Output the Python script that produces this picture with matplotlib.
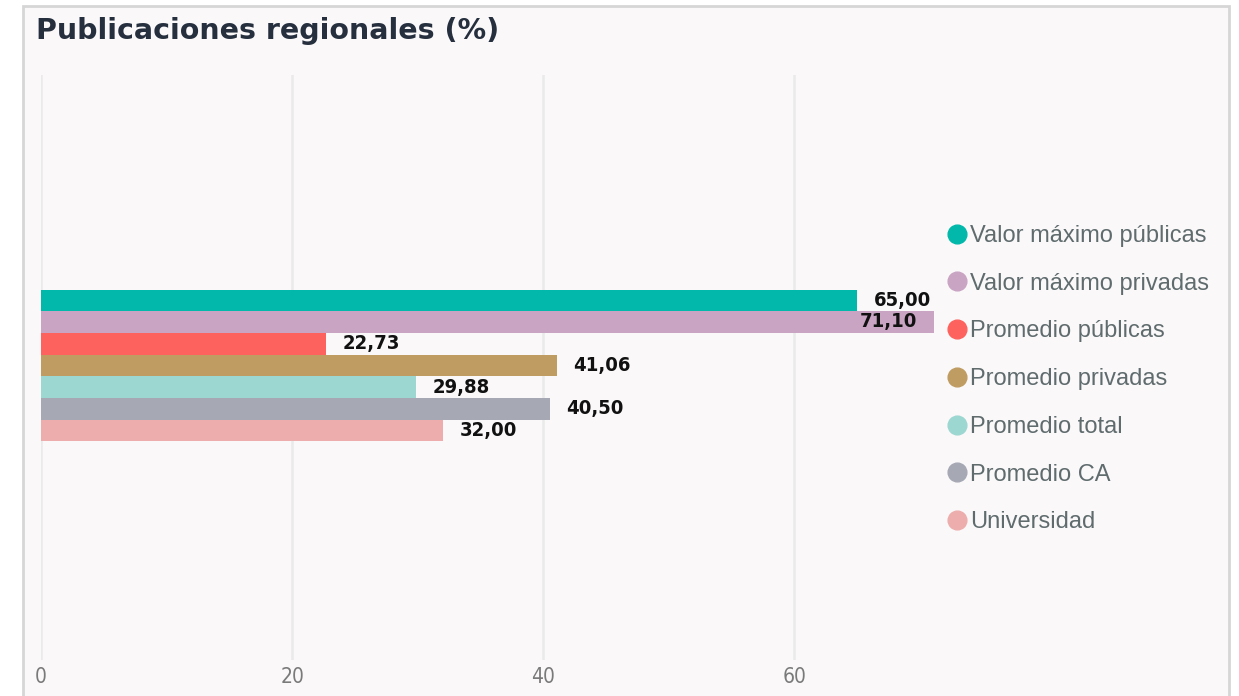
import matplotlib
matplotlib.use("Agg")
import matplotlib.pyplot as plt
from matplotlib.lines import Line2D
from matplotlib.patches import Rectangle

series = ["Valor máximo públicas", "Valor máximo privadas", "Promedio públicas",
          "Promedio privadas", "Promedio total", "Promedio CA", "Universidad"]
values = [65.00, 71.10, 22.73, 41.06, 29.88, 40.50, 32.00]
colors = ["#01B8AA", "#C9A4C3", "#FD625E", "#BF9C62", "#9DD7D1", "#A6A9B4", "#EDADAD"]
xticks = [0, 20, 40, 60]
title = "Publicaciones regionales (%)"

W, H = 1239, 696
fig = plt.figure(figsize=(W / 100, H / 100), dpi=100)
fig.patch.set_facecolor("white")

# panel background and border
fig.patches.append(Rectangle((23 / W, -0.01), (1229 - 23) / W, 1.01 - 6 / H, transform=fig.transFigure,
                             facecolor="#FAF8F9", edgecolor="#D6D6D6", linewidth=2, zorder=-10))

ax = fig.add_axes([41 / W, 1 - 660 / H, (945 - 41) / W, (660 - 75) / H])
ax.set_facecolor("none")
xmax = 72
ax.set_xlim(0, xmax)
ax.set_ylim(16.6, -10.4)

pos = list(range(len(values)))
ax.barh(pos, values, height=1.0, color=colors, zorder=3)

ax.set_xticks(xticks)
ax.set_xticklabels([str(t) for t in xticks])
ax.set_yticks([])
ax.grid(axis="x", color="#EAEAEA", linewidth=1.8, zorder=0)
for s in ax.spines.values():
    s.set_visible(False)
ax.tick_params(axis="x", length=0, pad=5, labelsize=15, labelcolor="#7A7A7A")
for lbl in ax.get_xticklabels():
    lbl.set_fontfamily("DejaVu Sans")
    lbl.set_fontstretch("condensed")

for p, v in zip(pos, values):
    txt = f"{v:.2f}".replace(".", ",")
    if v > 0.93 * xmax:
        ax.annotate(txt, (v, p), xytext=(-12, 0), textcoords="offset points",
                    ha="right", va="center", fontsize=14.5, color="#111111",
                    fontfamily="DejaVu Sans", fontstretch="condensed", fontweight="bold", zorder=5)
    else:
        ax.annotate(txt, (v, p), xytext=(12, 0), textcoords="offset points",
                    ha="left", va="center", fontsize=14.5, color="#111111",
                    fontfamily="DejaVu Sans", fontstretch="condensed", fontweight="bold", zorder=5)

handles = [Line2D([], [], linestyle="none", marker="o", markersize=13.5,
                  markerfacecolor=c, markeredgecolor=c) for c in colors]
leg = fig.legend(handles, series, loc="upper left", bbox_to_anchor=(945 / W, 1 - 225 / H),
                 frameon=False, fontsize=17, labelcolor="#5F6B6D", handletextpad=0.05,
                 handlelength=1.0, labelspacing=1.09, borderaxespad=0, borderpad=0)
for t in leg.get_texts():
    t.set_fontfamily(["Liberation Sans", "DejaVu Sans"])

fig.text(36 / W, 1 - 31 / H, title, fontsize=20.5, fontweight="heavy", color="#252F3E",
         va="center", ha="left", fontfamily="DejaVu Sans")

fig.savefig("out.png", dpi=100, facecolor=fig.get_facecolor())
